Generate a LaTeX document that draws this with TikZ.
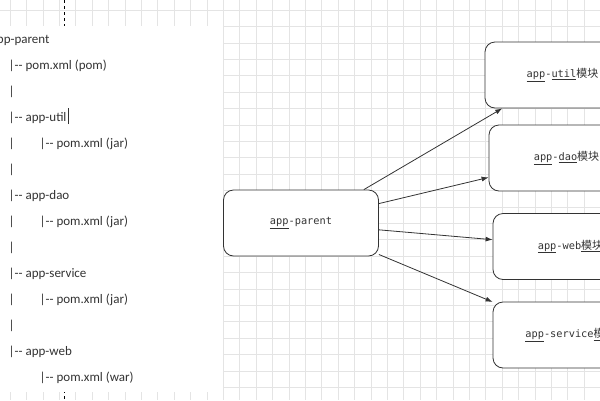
\documentclass[tikz,border=0pt]{standalone}
\usepackage{fontspec}
\newfontfamily\treefont{Carlito}
\newfontfamily\boxfont{DejaVu Sans Mono}
\newfontfamily\cjk{Noto Sans CJK SC}
\usetikzlibrary{arrows.meta}

\definecolor{gridgray}{HTML}{E4E4E4}
\definecolor{inkgray}{HTML}{333333}

\newcommand{\sq}[1]{\underline{#1}}
\newcommand{\tbar}{\makebox[31pt][l]{|}}
\newcommand{\mk}{{\cjk\fontsize{11}{12}\selectfont 模块}}

\begin{document}
\begin{tikzpicture}[x=1pt, y=-1pt, >={Latex[length=7pt,width=5pt]},
	module/.style={draw=inkgray, line width=0.8pt, rounded corners=10pt, fill=white,
		minimum width=155pt, minimum height=66pt, inner sep=0pt,
		font=\boxfont\fontsize{10.3}{12}\selectfont, text=inkgray},
	treeline/.style={anchor=base west, inner sep=0pt,
		font=\treefont\fontsize{13}{15}\selectfont, text=inkgray},
	link/.style={->, inkgray, line width=0.8pt}]
	\useasboundingbox (0,0) rectangle (600,400);
	\clip (0,0) rectangle (600,400);

	% background grid
	\foreach \i in {0,...,36}
		\draw [gridgray, line width=0.6pt] (10+16.4*\i,0) -- (10+16.4*\i,400);
	\foreach \i in {0,...,24}
		\draw [gridgray, line width=0.6pt] (0,10+16.4*\i) -- (600,10+16.4*\i);
	\draw [dashed, black, line width=0.6pt] (64,0) -- (64,400);

	% text panel
	\fill [white] (0,26) rectangle (223,392);
	\node [treeline] (t0)  at (-9.5,43)  {app-parent};
	\node [treeline] (t1)  at (8.5,69)   {|-{}- pom.xml (pom)};
	\node [treeline] (t2)  at (8.5,95)   {|};
	\node [treeline] (t3)  at (8.5,121)  {|-{}- app-util\hspace{1.5pt}\rule[-3pt]{0.7pt}{16pt}};
	\node [treeline] (t4)  at (8.5,147)  {\tbar|-{}- pom.xml (jar)};
	\node [treeline] (t5)  at (8.5,173)  {|};
	\node [treeline] (t6)  at (8.5,199)  {|-{}- app-dao};
	\node [treeline] (t7)  at (8.5,225)  {\tbar|-{}- pom.xml (jar)};
	\node [treeline] (t8)  at (8.5,251)  {|};
	\node [treeline] (t9)  at (8.5,277)  {|-{}- app-service};
	\node [treeline] (t10) at (8.5,303)  {\tbar|-{}- pom.xml (jar)};
	\node [treeline] (t11) at (8.5,329)  {|};
	\node [treeline] (t12) at (8.5,355)  {|-{}- app-web};
	\node [treeline] (t13) at (39.5,381) {|-{}- pom.xml (war)};

	% modules
	\node [module] (parent)  at (301,223)     {\sq{app}-parent};
	\node [module] (util)    at (562.5,75)    {\sq{app}-\sq{util}\mk};
	\node [module] (dao)     at (566.5,158)   {\sq{app}-\sq{dao}\mk};
	\node [module] (web)     at (570.5,246.5) {\sq{app}-web\sq{\mk}};
	\node [module] (service) at (570.5,335)   {\sq{app}-service\sq{\mk}};

	% arrows
	\path [link] (parent.28)  edge (util.209);
	\path [link] (parent.14)  edge (dao.194.5);
	\path [link] (parent.-5)  edge (web.175);
	\path [link] (parent.-22) edge (service.157);
\end{tikzpicture}
\end{document}
